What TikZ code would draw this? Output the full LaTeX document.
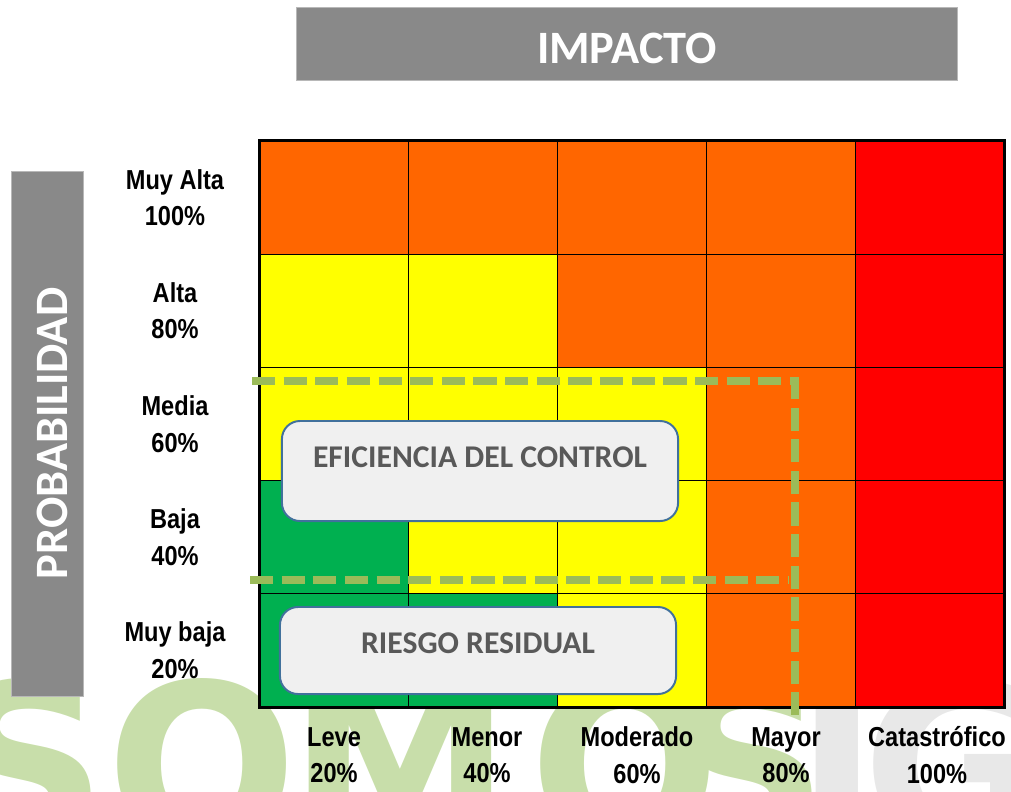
\documentclass[tikz,border=0pt]{standalone}
\usepackage{fontspec}
\setmainfont{Carlito}
\newfontfamily\narrowfont{Liberation Sans}[FakeStretch=0.86]
\newfontfamily\wmfont{DejaVu Sans}
\usetikzlibrary{positioning}

\definecolor{rorange}{HTML}{FF6600}
\definecolor{ryellow}{HTML}{FFFF00}
\definecolor{rred}{HTML}{FF0000}
\definecolor{rgreen}{HTML}{00B050}
\definecolor{ctrlgreen}{HTML}{9BBB59}
\definecolor{boxblue}{HTML}{41719C}
\definecolor{boxfill}{HTML}{F0F0F0}
\definecolor{boxtext}{HTML}{595959}
\definecolor{headgray}{HTML}{898989}
\definecolor{wmgreen}{HTML}{C8DEAA}
\definecolor{wmgray}{HTML}{E8E8E8}

\tikzset{
  cell/.style={draw=black, line width=0.9pt, minimum width=3.72cm, minimum height=2.83cm, inner sep=0pt},
  axislab/.style={font=\narrowfont\bfseries\fontsize{19.5}{26}\selectfont, align=center, inner sep=0pt},
  headbox/.style={fill=headgray, draw=headgray!60!white, line width=0.6pt, text=white, font=\bfseries\fontsize{33}{33}\selectfont, inner sep=0pt},
  ctrlbox/.style={rounded corners=0.45cm, fill=boxfill, draw=boxblue, line width=1.4pt, text=boxtext, font=\bfseries\fontsize{22.5}{24}\selectfont, inner sep=0pt, minimum width=9.9cm},
  ctrlline/.style={draw=ctrlgreen, line width=5pt, dash pattern=on 16.5pt off 6pt},
  wmletter/.style={font=\wmfont\bfseries\fontsize{160}{160}\selectfont, inner sep=0pt, anchor=base}
}

\begin{document}
\begin{tikzpicture}[x=0.025cm, y=-0.025cm]
\useasboundingbox (0,0) rectangle (1011,791);

% watermark
\begin{scope}
  \clip (0,0) rectangle (1011,791);
  \foreach \ltr/\lx/\lcol [count=\i] in {S/27/wmgreen, O/202/wmgreen, M/400/wmgreen, O/625/wmgreen, S/748/wmgreen, I/837/wmgray, G/955/wmgray}
    \node[wmletter, text=\lcol] (wm\i) at (\lx,845) {\ltr};
\end{scope}

% headers
\node[headbox, minimum width=16.5cm, minimum height=1.825cm, text height=29pt, text depth=0pt] (impacto) at (627,43.5) {IMPACTO};
\node[headbox, rotate=90, minimum width=13.125cm, minimum height=1.8cm, text height=29pt, text depth=0pt] (probabilidad) at (47,433.5) {PROBABILIDAD};

% risk matrix
\foreach \rowcols [count=\r] in {{rorange,rorange,rorange,rorange,rred},{ryellow,ryellow,rorange,rorange,rred},{ryellow,ryellow,ryellow,rorange,rred},{rgreen,ryellow,ryellow,rorange,rred},{rgreen,rgreen,ryellow,rorange,rred}}
  \foreach \cc [count=\c] in \rowcols
    \node[cell, fill=\cc] (cell-\r-\c) at ({260+(\c-0.5)*148.8},{141+(\r-0.5)*113.2}) {};
\draw[line width=1.8pt] (cell-1-1.north west) rectangle (cell-5-5.south east);

% axis labels
\foreach \lab/\pct [count=\r] in {Muy Alta/100\%, Alta/80\%, Media/60\%, Baja/40\%, Muy baja/20\%}
  \node[axislab] (prob-\r) at (175,{141+(\r-0.5)*113.2}) {\lab\\\pct};
\foreach \lx/\lab/\pct [count=\c] in {334/Leve/20\%, 487/Menor/40\%, 637/Moderado/60\%, 786/Mayor/80\%, 937/Catastrófico/100\%}
  \node[axislab] (imp-\c) at (\lx,755) {\lab\\\pct};

% control frame
\draw[ctrlline] (252,381) -- (795,381) -- (795,720);
\draw[ctrlline] (250,580) -- (788,580);

% boxes
\node[ctrlbox, minimum height=2.5cm, text depth=20pt] (eficiencia) at (480,471) {EFICIENCIA DEL CONTROL};
\node[ctrlbox, minimum height=2.175cm, text depth=10.7pt] (residual) at (478,650.5) {RIESGO RESIDUAL};
\end{tikzpicture}
\end{document}
